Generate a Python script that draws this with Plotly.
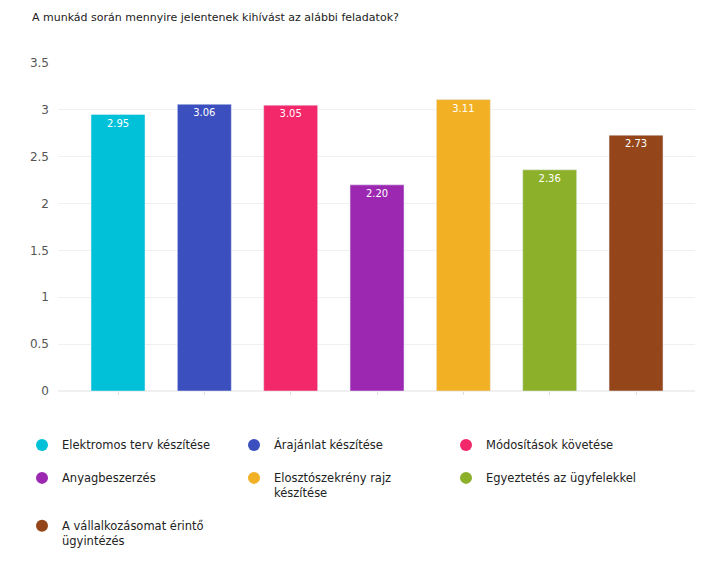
import plotly.graph_objects as go

categories = ["Elektromos terv készítése", "Árajánlat készítése", "Módosítások követése",
              "Anyagbeszerzés", "Elosztószekrény rajz<br>készítése", "Egyeztetés az ügyfelekkel",
              "A vállalkozásomat érintő<br>ügyintézés"]
values = [2.95, 3.06, 3.05, 2.20, 3.11, 2.36, 2.73]
labels = ["2.95", "3.06", "3.05", "2.20", "3.11", "2.36", "2.73"]
colors = ["#00C1D8", "#3C4FBE", "#F2286A", "#9C28B2", "#F2B125", "#8DB02B", "#94461A"]
title = "A munkád során mennyire jelentenek kihívást az alábbi feladatok?"

FONT = "DejaVu Sans, Verdana, sans-serif"
W, H = 718, 569
L, R, T, B = 58, 23, 63, 178
pw, ph = W - L - R, H - T - B

fig = go.Figure()
for i, (c, v, t, col) in enumerate(zip(categories, values, labels, colors)):
    fig.add_trace(go.Bar(x=[i], y=[v], text=[t], width=0.625, marker_color=col,
                         textposition="inside", insidetextanchor="end",
                         textfont=dict(color="white", size=10, family=FONT),
                         showlegend=False, hoverinfo="skip"))
for c, col in zip(categories, colors):
    fig.add_trace(go.Scatter(x=[None], y=[None], mode="markers", name=c + "<br> ",
                             marker=dict(symbol="circle", size=11, color=col)))

fig.update_layout(
    width=W, height=H,
    margin=dict(l=L, r=R, t=T, b=B, autoexpand=False),
    plot_bgcolor="white", paper_bgcolor="white",
    barmode="overlay",
    font=dict(family=FONT, color="#222"),
    title=dict(text=title, x=32/W, xanchor="left", y=1 - 17/H, yanchor="middle",
               font=dict(size=11, color="#222", family=FONT)),
    xaxis=dict(range=[-0.695, 6.683], showticklabels=False, showgrid=False,
               ticks="outside", ticklen=3, tickcolor="#ddd", tickvals=list(range(7)),
               zeroline=False, showline=False, fixedrange=True),
    yaxis=dict(range=[0, 3.5], tickvals=[0, 0.5, 1, 1.5, 2, 2.5, 3, 3.5],
               ticktext=["0", "0.5", "1", "1.5", "2", "2.5", "3", "3.5"],
               gridcolor="#f0f0f0", zeroline=True, zerolinecolor="#f0f0f0",
               tickfont=dict(size=12, color="#555", family=FONT), ticks="", ticklabelstandoff=8),
    legend=dict(orientation="h",
                x=(22 - L) / pw, xanchor="left", y=(H - B - 431) / ph, yanchor="top",
                entrywidth=167, entrywidthmode="pixels", valign="top",
                font=dict(size=11.5, color="#222", family=FONT), tracegroupgap=0,
                itemsizing="constant"),
)
fig.write_html("out.html")
